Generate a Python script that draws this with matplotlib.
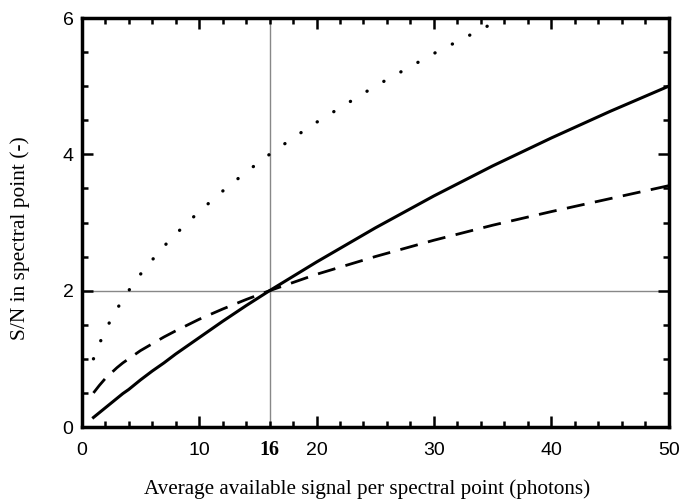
import matplotlib
matplotlib.use("Agg")
import matplotlib.pyplot as plt
from matplotlib.ticker import MultipleLocator
import matplotlib.transforms as mtransforms

# signal (photons) and S/N
photons = [1, 1.5, 2, 2.5, 3, 3.5, 4, 5, 6, 7, 8, 10, 12, 14, 16, 18, 20,
           25, 30, 35, 40, 45, 50]
sn_solid = [0.14, 0.21, 0.28, 0.35, 0.42, 0.49, 0.55, 0.69, 0.82, 0.94, 1.07,
            1.31, 1.55, 1.78, 2.0, 2.21, 2.42, 2.92, 3.39, 3.83, 4.24, 4.63, 5.0]
sn_dashed = [0.5, 0.61, 0.71, 0.79, 0.87, 0.94, 1.0, 1.12, 1.22, 1.32, 1.41,
             1.58, 1.73, 1.87, 2.0, 2.12, 2.24, 2.5, 2.74, 2.96, 3.16, 3.35, 3.54]
photons_dot = [1, 1.5, 2, 2.5, 3, 3.5, 4, 5, 6, 7, 8, 10, 12, 14, 16, 18, 20,
               25, 30, 35, 36]
sn_dotted = [1.0, 1.22, 1.41, 1.58, 1.73, 1.87, 2.0, 2.24, 2.45, 2.65, 2.83,
             3.16, 3.46, 3.74, 4.0, 4.24, 4.47, 5.0, 5.48, 5.92, 6.0]
ref_x = 16
ref_y = 2

SANS = "Liberation Sans"
SERIF = "Liberation Serif"

fig = plt.figure(figsize=(6.81, 5.0), dpi=100)
ax = fig.add_axes([0.120, 0.146, 0.862, 0.818])

ax.axvline(ref_x, color="#888888", lw=1.0, zorder=1)
ax.axhline(ref_y, color="#888888", lw=1.0, zorder=1)

ax.plot(photons, sn_solid, color="black", lw=2.2, zorder=3)
ax.plot(photons, sn_dashed, color="black", lw=2.0, linestyle=(0, (6.5, 3.8)),
        zorder=3)
ax.plot(photons_dot, sn_dotted, color="black", lw=2.4,
        linestyle=(0, (0.05, 5.8)), dash_capstyle="round", zorder=3)

ax.set_xlim(0, 50)
ax.set_ylim(0, 6)
ax.xaxis.set_major_locator(MultipleLocator(10))
ax.xaxis.set_minor_locator(MultipleLocator(2))
ax.yaxis.set_major_locator(MultipleLocator(2))
ax.yaxis.set_minor_locator(MultipleLocator(0.5))
ax.tick_params(which="both", direction="in", top=True, right=True, width=1.8,
               color="black")
ax.tick_params(which="major", length=8)
ax.tick_params(which="minor", length=4)
ax.tick_params(axis="x", which="major", pad=10.5)
ax.tick_params(axis="y", which="major", pad=6)
for lab in ax.get_xticklabels() + ax.get_yticklabels():
    lab.set_fontfamily(SANS)
    lab.set_fontsize(14)
for s in ax.spines.values():
    s.set_linewidth(2.5)

trans = mtransforms.blended_transform_factory(ax.transData, ax.transAxes)
ax.text(ref_x, -0.057, "16", transform=trans, ha="center", va="center",
        fontfamily=SERIF, fontweight="bold", fontsize=14.5)

ax.set_xlabel("Average available signal per spectral point (photons)",
              fontfamily=SERIF, fontsize=15.2)
ax.set_ylabel("S/N in spectral point (-)", fontfamily=SERIF, fontsize=15.4)
ax.xaxis.set_label_coords(0.486, -0.127)
ax.yaxis.set_label_coords(-0.088, 0.462)

fig.savefig("out.png", dpi=100)
